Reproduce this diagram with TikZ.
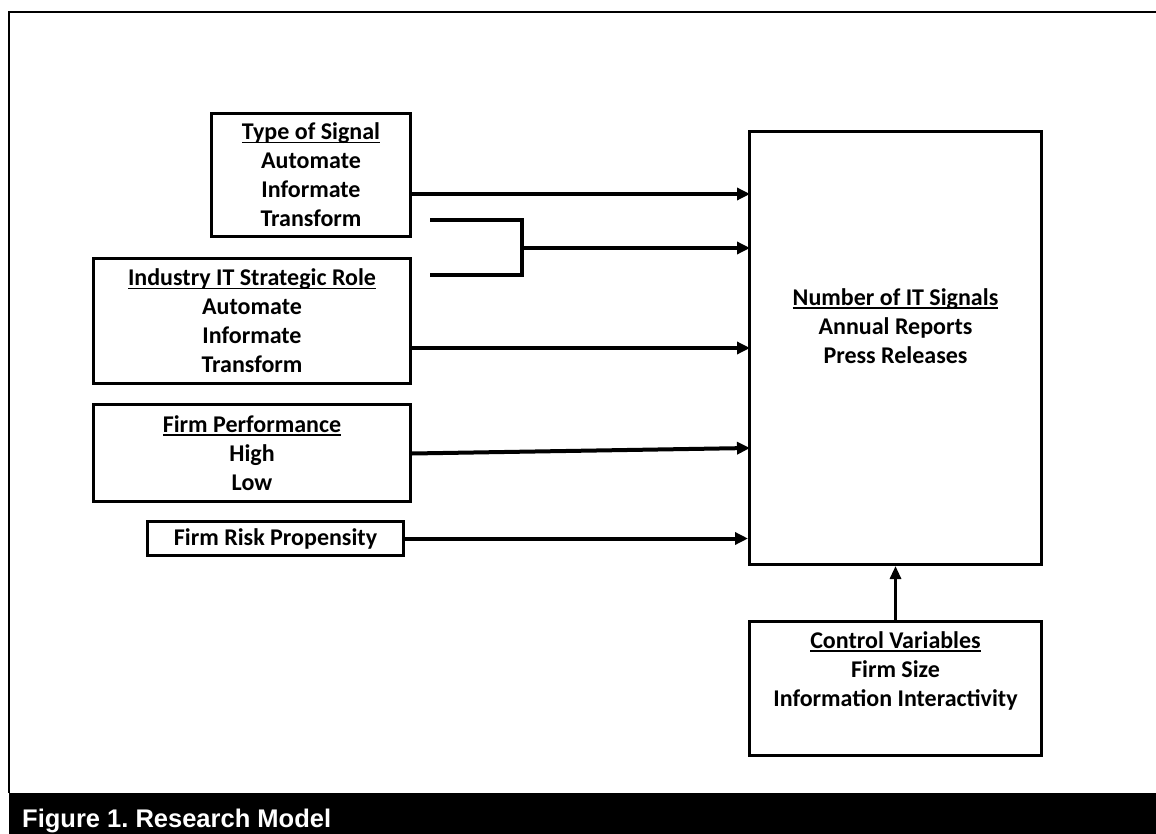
\documentclass[tikz,border=0pt]{standalone}
\usepackage{fontspec}
\setmainfont{Carlito}
\newfontfamily\captionfont{Liberation Sans}
\usetikzlibrary{arrows.meta}
\frenchspacing
\newsavebox\hdbox
\newcommand{\hd}[1]{\sbox\hdbox{#1}\rlap{\rule[-3.5pt]{\wd\hdbox}{1.8pt}}\usebox\hdbox}
\tikzset{
  varbox/.style={draw, line width=3pt, rectangle, inner sep=0pt, align=center,
    font=\bfseries\fontsize{24}{29}\selectfont},
  vartext/.style={inner sep=0pt, align=center, font=\bfseries\fontsize{24}{29}\selectfont},
  sigarrow/.style={line width=4pt, -{Triangle[length=13pt,width=12pt]}},
  bracket/.style={line width=4pt, line join=miter}
}
\begin{document}
\begin{tikzpicture}[x=1pt,y=-1pt]
  \useasboundingbox (0,0) rectangle (1156,834);
  % frame and caption bar
  \draw[line width=2.5pt] (1156,12) -- (9,12) -- (9,793);
  \fill[black] (9,793) rectangle (1156,834);
  \node[anchor=base west, inner sep=0pt, text=white,
    font=\captionfont\bfseries\fontsize{25.5}{30}\selectfont] (caption) at (22,827)
    {Figure 1. Research Model};
  % boxes
  \node[varbox, minimum width=199pt, minimum height=123pt] (signal) at (311,175)
    {\hd{Type of Signal}\\Automate\\Informate\\Transform};
  \node[varbox, minimum width=317pt, minimum height=125pt] (industry) at (252,321)
    {\hd{Industry IT Strategic Role}\\Automate\\Informate\\Transform};
  \node[varbox, minimum width=317pt, minimum height=97pt] (perf) at (252,453)
    {\hd{Firm Performance}\\High\\Low};
  \node[varbox, minimum width=256pt, minimum height=34pt] (risk) at (275.5,538.5)
    {Firm Risk Propensity};
  \node[varbox, minimum width=292pt, minimum height=433pt] (signals) at (895.5,348) {};
  \node[vartext] (signalstext) at (895.5,326)
    {\hd{Number of IT Signals}\\Annual Reports\\Press Releases};
  \node[varbox, minimum width=292pt, minimum height=134pt] (control) at (895.5,688.5) {};
  \node[vartext] (controltext) at (895.5,671)
    {\hd{Control Variables}\\Firm Size\\Information Interactivity};
  % arrow ends
  \coordinate (in1) at (750,194);
  \coordinate (in2) at (750,248);
  \coordinate (in3) at (750,348);
  \coordinate (in4) at (750,448);
  \coordinate (b1) at (430,220);
  \coordinate (b2) at (430,275);
  \coordinate (bj) at (522,248);
  % connectors
  \draw[sigarrow] (signal.east |- in1) -- (in1);
  \draw[bracket] (b1) -| (bj) |- (b2);
  \draw[sigarrow] (bj) -- (in2);
  \draw[sigarrow] (industry.east |- in3) -- (in3);
  \draw[sigarrow] ([yshift=-0.5pt]perf.east) -- (in4);
  \draw[sigarrow] (risk.east) -- (risk.east -| signals.west);
  \draw[line width=3pt, -{Triangle[length=13pt,width=11pt]}] (control.north) -- (signals.south);
\end{tikzpicture}
\end{document}
